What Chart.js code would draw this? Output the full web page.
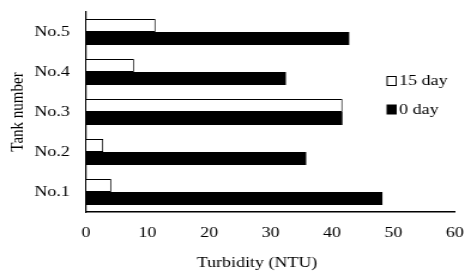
<!DOCTYPE html>
<html>
<head>
<meta charset="utf-8">
<script src="https://cdn.jsdelivr.net/npm/chart.js@4"></script>
<style>
  html, body { margin: 0; padding: 0; background: #fff; overflow: hidden; }
  /* the original figure is stretched sideways, so draw narrow and widen */
  #wrap { width: 388px; height: 273px; transform: scaleX(1.1985); transform-origin: 0 0; }
</style>
</head>
<body>
<div id="wrap"><canvas id="myChart" width="388" height="273"></canvas></div>
<script>
const tanks = ["No.5", "No.4", "No.3", "No.2", "No.1"];
const day15 = [11.3, 7.8, 41.7, 2.8, 4.1];
const day0 = [42.8, 32.5, 41.7, 35.8, 48.2];
const xTicks = [0, 10, 20, 30, 40, 50, 60];
const xTitle = "Turbidity (NTU)";

const serif = "'Liberation Serif', 'Times New Roman', serif";

// legend inside the plot and the x title (sits a bit left of centre in the original)
const extras = {
    id: "extras",
    afterDraw(chart) {
        const ctx = chart.ctx;
        ctx.save();
        ctx.font = "15px " + serif;
        ctx.textBaseline = "middle";
        chart.data.datasets.forEach((ds, i) => {
            const y = 81 + i * 28.5;
            ctx.fillStyle = ds.backgroundColor;
            ctx.strokeStyle = "#000";
            ctx.lineWidth = 1;
            ctx.fillRect(323, y - 4.5, 7.5, 9);
            ctx.strokeRect(323, y - 4.5, 7.5, 9);
            ctx.fillStyle = "#000";
            ctx.fillText(ds.label, 333, y + 0.5);
        });
        ctx.textAlign = "center";
        ctx.fillText(xTitle, 214.5, 263);
        ctx.restore();
    }
};

const data = {
    labels: tanks,
    datasets: [
        {
            label: "15 day",
            data: day15,
            backgroundColor: "#ffffff",
            borderColor: "#000000",
            borderWidth: 1,
            categoryPercentage: 0.65,
            barPercentage: 1.0
        },
        {
            label: "0 day",
            data: day0,
            backgroundColor: "#000000",
            borderColor: "#000000",
            borderWidth: 0,
            categoryPercentage: 0.65,
            barPercentage: 1.0
        }
    ]
};

const config = {
    type: "bar",
    data: data,
    options: {
        indexAxis: "y",
        responsive: false,
        animation: false,
        devicePixelRatio: 1,
        layout: { autoPadding: false, padding: { top: 12, right: 8.4, left: 0, bottom: 0 } },
        plugins: {
            legend: { display: false },
            tooltip: { enabled: false }
        },
        scales: {
            x: {
                min: 0,
                max: 60,
                afterBuildTicks: axis => { axis.ticks = xTicks.map(v => ({ value: v })); },
                afterFit: axis => {
                    axis.height = 61;
                    axis.paddingLeft = 0;
                    axis.paddingRight = 0;
                },
                grid: { display: false, drawTicks: false },
                border: { display: true, color: "#000", width: 1.5 },
                ticks: { color: "#000", padding: 12, maxRotation: 0, font: { family: serif, size: 15 } }
            },
            y: {
                afterFit: axis => {
                    axis.width = 71.8;
                    axis.paddingTop = 0;
                    axis.paddingBottom = 0;
                },
                grid: { display: false, drawTicks: false },
                border: { display: true, color: "#000", width: 1.2 },
                ticks: { color: "#000", padding: 13.5, font: { family: serif, size: 15 } },
                title: {
                    display: true,
                    text: "Tank number",
                    color: "#000",
                    padding: { top: 6, bottom: 0 },
                    font: { family: serif, size: 15 }
                }
            }
        }
    },
    plugins: [extras]
};

new Chart(document.getElementById("myChart"), config);
</script>
</body>
</html>
